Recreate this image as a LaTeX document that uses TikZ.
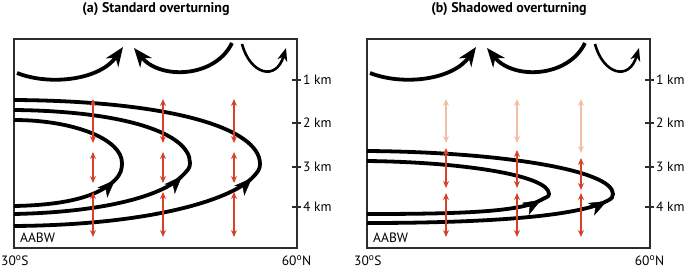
\documentclass[tikz,border=0pt]{standalone}
\usepackage{fontspec}
\setmainfont{PT Sans}
\usetikzlibrary{arrows.meta,decorations.markings}
\definecolor{redA}{RGB}{216,64,40}
\definecolor{paleA}{RGB}{241,190,168}
\definecolor{frameC}{RGB}{45,45,45}
\tikzset{
  frame/.style={draw=frameC, line width=1.3pt},
  flow/.style={line width=3.8pt},
  thinflow/.style={line width=2.6pt},
  tophead/.style={-{Stealth[length=19pt,width=15pt,inset=6pt]}},
  smallhead/.style={-{Stealth[length=13pt,width=10pt,inset=4pt]}},
  endhead/.style={postaction={decorate}, decoration={markings,
      mark=at position 1 with {\arrow{Stealth[length=18pt,width=14pt,inset=5pt]}}}},
  redarr/.style={draw=redA, line width=1.4pt,
      {Stealth[length=7pt,width=6pt]}-{Stealth[length=7pt,width=6pt]}},
  palearr/.style={redarr, draw=paleA},
  lbl/.style={font=\fontsize{13.5}{15}\selectfont, inner sep=0pt},
  ttl/.style={font=\bfseries\fontsize{14}{16}\selectfont, inner sep=0pt}
}
\newcommand\panelbase[3]{%
  \begin{scope}[shift={(#1,0)}]
    \draw[frame] (14,39) rectangle (297,248);
    \foreach \y/\t in {80/1,123/2,167/3,207/4}{
      \draw[frame] (292,\y) -- (301,\y);
      \node[lbl, anchor=base west] (km\t#2) at (303,\y+4.5) {\t\ km};
    }
    \node[lbl, anchor=base west] (aabw#2) at (20,242) {AABW};
    \node[lbl, anchor=base west] (s#2) at (1,265.5) {30\textsuperscript{o}S};
    \node[lbl, anchor=base] (n#2) at (296.5,265.5) {60\textsuperscript{o}N};
    \node[ttl, anchor=base] (title#2) at (156,12.5) {#3};
    \draw[flow, tophead] (17,73) .. controls (50,86) and (100,80) .. (123,47);
    \draw[flow, tophead] (232,43) .. controls (215,78) and (160,80) .. (134,48);
    \draw[thinflow, smallhead] (242,44) .. controls (250,74) and (276,82) .. (286,48);
  \end{scope}}
\begin{document}
\begin{tikzpicture}[x=1pt,y=-1pt]
\useasboundingbox (0,0) rectangle (685,268);
\panelbase{0}{a}{(a) Standard overturning}
\panelbase{353}{b}{(b) Shadowed overturning}
% panel (a) cells
\draw[flow] (14,226) .. controls (150,225) and (230,200) .. (252,178)
               .. controls (258,172) and (260,169) .. (260,164)
               .. controls (260,128) and (170,101) .. (14,100);
\path[endhead] (14,226) .. controls (150,225) and (230,200) .. (252,178);
\draw[flow] (14,214) .. controls (110,212) and (165,194) .. (182,176)
               .. controls (188,170) and (190,168) .. (190,163)
               .. controls (190,132) and (120,111) .. (14,110);
\path[endhead] (14,214) .. controls (110,212) and (165,194) .. (182,176);
\draw[flow] (14,206) .. controls (70,205) and (100,195) .. (115,180)
               .. controls (121,174) and (122,169) .. (122,163)
               .. controls (122,139) and (73,120) .. (14,120);
\path[endhead] (14,206) .. controls (70,205) and (100,195) .. (115,180);
\foreach \x in {93,163,234}{
  \draw[redarr] (\x,143) -- (\x,99);
  \draw[redarr] (\x,183) -- (\x,152);
  \draw[redarr] (\x,237) -- (\x,192);
}
% panel (b) cells
\draw[flow] (367,223) .. controls (500,223) and (580,215) .. (607,201)
               .. controls (612,198.5) and (613,197) .. (613,194)
               .. controls (613,170) and (500,152) .. (367,151);
\path[endhead] (367,223) .. controls (500,223) and (580,215) .. (607,201);
\draw[flow] (367,214) .. controls (460,214) and (520,212) .. (541,200)
               .. controls (546,197) and (549,197) .. (549,194)
               .. controls (549,175) and (460,162) .. (367,161);
\path[endhead] (367,214) .. controls (460,214) and (520,212) .. (541,200);
\draw[palearr] (446,143) -- (446,99);
\draw[redarr] (446,188) -- (446,148);
\draw[redarr] (446,237) -- (446,193);
\draw[palearr] (517,143) -- (517,99);
\draw[redarr] (517,188) -- (517,150);
\draw[redarr] (517,237) -- (517,193);
\draw[palearr] (581,153) -- (581,99);
\draw[redarr] (581,190) -- (581,158);
\draw[redarr] (581,237) -- (581,193);
\end{tikzpicture}
\end{document}
